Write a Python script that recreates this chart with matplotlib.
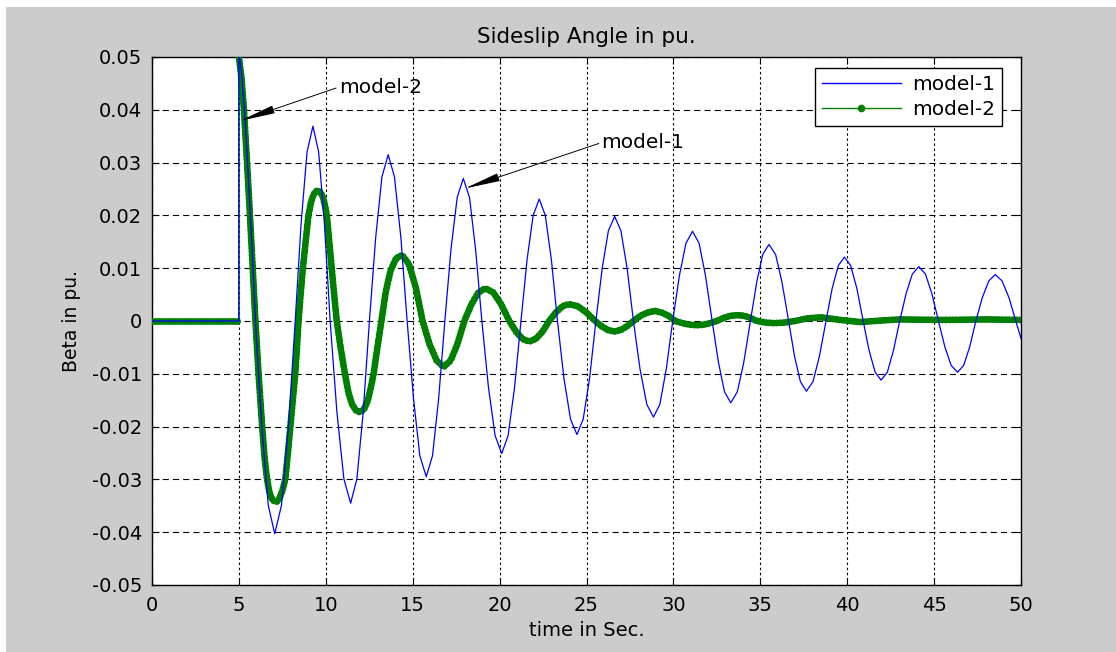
import matplotlib
matplotlib.use('Agg')
import matplotlib.pyplot as plt
from matplotlib.lines import Line2D
from matplotlib.patches import Rectangle

# model-1 : sideslip angle (pu.)
t_model1 = [0.0, 5.0, 5.0, 5.15, 5.32, 5.48, 5.63, 5.80, 5.95,
            6.32, 6.69, 7.06, 7.45, 7.85, 8.24,
            8.58, 8.92, 9.26, 9.59, 9.92, 10.25,
            10.64, 11.04, 11.43, 11.79, 12.15, 12.51,
            12.87, 13.23, 13.59, 13.95, 14.32, 14.68,
            15.05, 15.41, 15.78, 16.14, 16.49, 16.85,
            17.20, 17.56, 17.91, 18.27, 18.62, 18.98,
            19.36, 19.74, 20.12, 20.49, 20.86, 21.23,
            21.58, 21.93, 22.28, 22.63, 22.98, 23.33,
            23.70, 24.08, 24.45, 24.81, 25.18, 25.54,
            25.90, 26.26, 26.62, 26.98, 27.34, 27.70,
            28.08, 28.47, 28.85, 29.22, 29.59, 29.96,
            30.34, 30.72, 31.10, 31.48, 31.85, 32.23,
            32.59, 32.94, 33.30, 33.68, 34.05, 34.43,
            34.79, 35.14, 35.50, 35.88, 36.25, 36.63,
            36.97, 37.31, 37.65, 38.03, 38.40, 38.78,
            39.13, 39.49, 39.84, 40.20, 40.56, 40.92,
            41.26, 41.61, 41.95, 42.31, 42.66, 43.02,
            43.39, 43.75, 44.12, 44.50, 44.87, 45.25,
            45.62, 45.98, 46.35, 46.70, 47.05, 47.40,
            47.77, 48.15, 48.52, 48.91, 49.31, 49.70,
            50.0]
beta_model1 = [0, 0, 0.051, 0.047, 0.040, 0.031, 0.022, 0.011, 0,
               -0.0202, -0.0349, -0.0403, -0.0349, -0.0202, 0,
               0.0185, 0.0320, 0.0369, 0.0320, 0.0185, 0,
               -0.0173, -0.0299, -0.0345, -0.0299, -0.0173, 0,
               0.0158, 0.0273, 0.0315, 0.0273, 0.0158, 0,
               -0.0148, -0.0255, -0.0295, -0.0255, -0.0148, 0,
               0.0135, 0.0234, 0.0270, 0.0234, 0.0135, 0,
               -0.0126, -0.0217, -0.0251, -0.0217, -0.0126, 0,
               0.0116, 0.0200, 0.0231, 0.0200, 0.0116, 0,
               -0.0108, -0.0186, -0.0215, -0.0186, -0.0108, 0,
               0.0099, 0.0171, 0.0198, 0.0171, 0.0099, 0,
               -0.0091, -0.0158, -0.0182, -0.0158, -0.0091, 0,
               0.0085, 0.0147, 0.0170, 0.0147, 0.0085, 0,
               -0.0078, -0.0134, -0.0155, -0.0134, -0.0078, 0,
               0.0073, 0.0126, 0.0145, 0.0126, 0.0073, 0,
               -0.0067, -0.0115, -0.0133, -0.0115, -0.0067, 0,
               0.0061, 0.0105, 0.0121, 0.0105, 0.0061, 0,
               -0.0056, -0.0097, -0.0112, -0.0097, -0.0056, 0,
               0.0052, 0.0089, 0.0103, 0.0089, 0.0052, 0,
               -0.0049, -0.0084, -0.0097, -0.0084, -0.0049, 0,
               0.0044, 0.0076, 0.0088, 0.0076, 0.0044, 0,
               -0.0033]

# model-2
t_model2 = [0.0, 5.0, 5.0, 5.15, 5.29, 5.45, 5.62, 5.78, 5.95,
            6.15, 6.34, 6.48, 6.62, 6.76, 6.90, 7.05, 7.19, 7.33,
            7.50, 7.67, 7.82, 7.96, 8.10, 8.24, 8.34, 8.43, 8.55,
            8.68, 8.84, 9.00, 9.15, 9.30, 9.45, 9.58, 9.72, 9.85,
            9.96, 10.06, 10.20, 10.34, 10.48, 10.63, 10.85, 11.10,
            11.30, 11.50, 11.73, 11.97, 12.20, 12.40, 12.58, 12.75,
            12.97, 13.20, 13.45, 13.72, 14.05, 14.39, 14.78, 15.18,
            15.57, 15.97, 16.38, 16.78, 17.18, 17.57, 17.97,
            18.37, 18.78, 19.18, 19.64, 20.10, 20.56,
            20.94, 21.32, 21.70, 22.08, 22.47, 22.85,
            23.23, 23.62, 24.00, 24.50, 25.00, 25.50,
            25.87, 26.23, 26.60, 26.97, 27.33, 27.70,
            28.11, 28.52, 28.93, 29.32, 29.71, 30.10,
            30.52, 30.94, 31.36, 31.74, 32.12, 32.50,
            32.90, 33.30, 33.70, 34.07, 34.43, 34.80,
            35.30, 35.80, 36.40, 37.00, 37.70, 38.50, 39.60,
            40.75, 42.00, 43.00, 45.50, 48.00, 50.00]
beta_model2 = [0, 0, 0.050, 0.046, 0.040, 0.031, 0.021, 0.011, 0,
               -0.011, -0.020, -0.026, -0.030, -0.0325, -0.0337, -0.0342, -0.0342, -0.0336,
               -0.0322, -0.0300, -0.0250, -0.0200, -0.0150, -0.0100, -0.0050, 0, 0.0050,
               0.0100, 0.0150, 0.0200, 0.0225, 0.0240, 0.0246, 0.0247, 0.0243, 0.0233,
               0.0218, 0.0200, 0.0150, 0.0100, 0.0050, 0, -0.0050, -0.0100,
               -0.0135, -0.0157, -0.0169, -0.0173, -0.0167, -0.0152, -0.0128, -0.0100,
               -0.0050, 0, 0.0055, 0.0095, 0.0119, 0.0125, 0.0108, 0.0063,
               0, -0.0044, -0.0075, -0.0087, -0.0075, -0.0044, 0,
               0.0031, 0.0054, 0.0062, 0.0054, 0.0031, 0,
               -0.0020, -0.0034, -0.0039, -0.0034, -0.0020, 0,
               0.0016, 0.0028, 0.0032, 0.0028, 0.0016, 0,
               -0.0010, -0.0017, -0.0020, -0.0017, -0.0010, 0,
               0.0010, 0.0016, 0.0019, 0.0016, 0.0010, 0,
               -0.0004, -0.0007, -0.0008, -0.0007, -0.0004, 0,
               0.0006, 0.0010, 0.0011, 0.0010, 0.0006, 0,
               -0.0003, -0.0004, -0.0003, 0, 0.0005, 0.0007, 0.0002,
               -0.0002, 0.0001, 0.0003, 0.0002, 0.0003, 0.0002]

x_ticks = [0, 5, 10, 15, 20, 25, 30, 35, 40, 45, 50]
y_ticks = [-0.05, -0.04, -0.03, -0.02, -0.01, 0, 0.01, 0.02, 0.03, 0.04, 0.05]
y_labels = ['-0.05', '-0.04', '-0.03', '-0.02', '-0.01', '0',
            '0.01', '0.02', '0.03', '0.04', '0.05']

blue = '#0000ff'
green = '#008000'

fig = plt.figure(figsize=(11.16, 6.52), dpi=100)
fig.patch.set_facecolor('white')
# matlab grey window (small white strip top/left like the screenshot)
fig.add_artist(Rectangle((6/1116, 0), 1, 1 - 7/652, transform=fig.transFigure,
                         facecolor='#cccccc', edgecolor='none', zorder=-10))

ax = fig.add_axes([152/1116, 1 - 585/652, 869/1116, 528/652])
ax.set_facecolor('white')

# model-2 : thin line + dense dots (markers blend into a thick band)
step = t_model2.index(5.0) + 1
ax.plot(t_model2, beta_model2, color=green, lw=1.0, zorder=3)
for a, b in [(0, step), (step, len(t_model2))]:
    ax.plot(t_model2[a:b], beta_model2[a:b], color=green, lw=5.0,
            linestyle=(0, (0.01, 0.5)), dash_capstyle='round', zorder=3)

# model-1
ax.plot(t_model1, beta_model1, color=blue, lw=0.9, zorder=4)

ax.set_xlim(0, 50)
ax.set_ylim(-0.05, 0.05)
ax.set_xticks(x_ticks)
ax.set_yticks(y_ticks)
ax.set_yticklabels(y_labels)
ax.tick_params(direction='in', top=True, right=True, length=5, width=0.8,
               labelsize=14, colors='black')
ax.tick_params(axis='x', pad=8)
ax.tick_params(axis='y', pad=7)
for s in ax.spines.values():
    s.set_linewidth(1.0)
    s.set_color('black')

# matlab style grid: dotted verticals, dashed horizontals
ax.xaxis.grid(True, color='black', lw=0.8)
ax.yaxis.grid(True, color='black', lw=0.8)
for gl in ax.get_xgridlines():
    gl.set_dashes([2.2, 2.4])
for gl in ax.get_ygridlines():
    gl.set_dashes([5.5, 3.7])
ax.set_axisbelow(True)

ax.set_title('Sideslip Angle in pu.', fontsize=15.5, pad=10)
ax.set_xlabel('time in Sec.', fontsize=14, labelpad=4)
ax.set_ylabel('Beta in pu.', fontsize=13.5, labelpad=8)

# arrows with labels
arr = dict(arrowstyle='-|>,head_length=2.2,head_width=0.25', color='black',
           lw=0.7, mutation_scale=10, relpos=(0, 0.5), shrinkA=0, shrinkB=0)
ax.annotate('model-2', xy=(5.06, 0.0379), xytext=(10.75, 0.0443),
            fontsize=14.5, va='center', ha='left', arrowprops=arr, zorder=6)
ax.annotate('model-1', xy=(18.0, 0.0251), xytext=(25.87, 0.0338),
            fontsize=14.5, va='center', ha='left', arrowprops=arr, zorder=6)

handles = [Line2D([], [], color=blue, lw=1.0),
           Line2D([], [], color=green, lw=1.0, marker='.', markersize=9)]
leg = ax.legend(handles, ['model-1', 'model-2'], loc='upper right',
                bbox_to_anchor=(0.978, 0.979), borderaxespad=0,
                fontsize=14.5, handlelength=3.9, handletextpad=0.55,
                fancybox=False, framealpha=1, edgecolor='black',
                borderpad=0.35, labelspacing=0.3)
leg.get_frame().set_linewidth(1.0)
leg.set_zorder(10)

plt.savefig('out.png', dpi=100)
